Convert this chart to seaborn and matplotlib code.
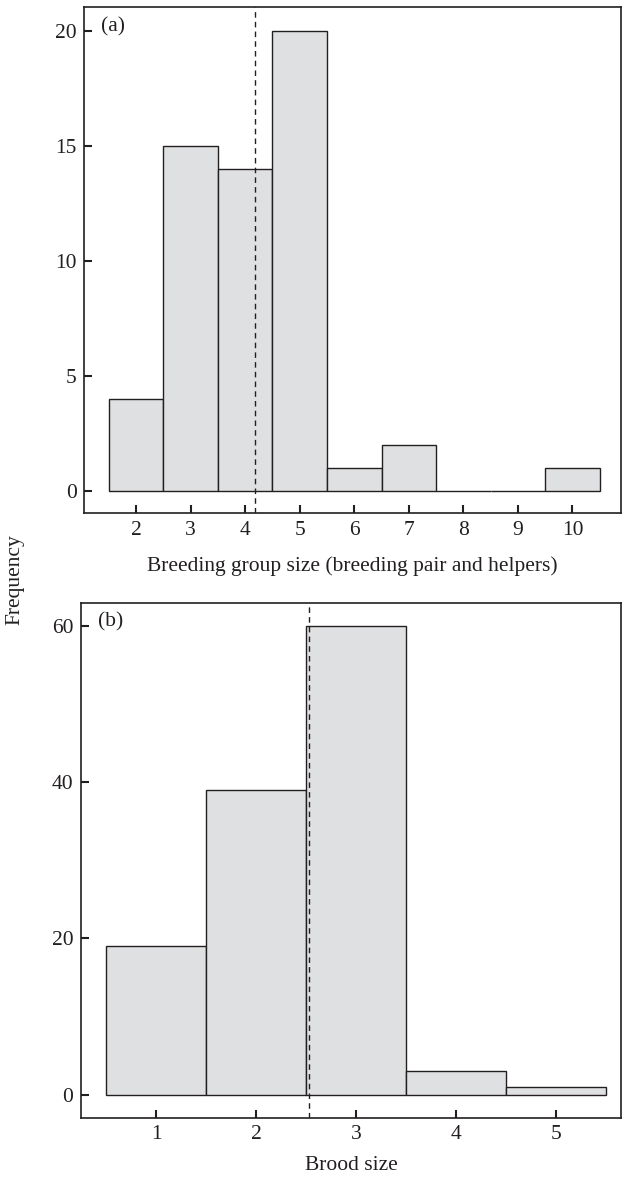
import matplotlib
matplotlib.use("Agg")
import matplotlib.pyplot as plt
import seaborn as sns
import pandas as pd

# Data
group_sizes = [2, 3, 4, 5, 6, 7, 8, 9, 10]
group_counts = [4, 15, 14, 20, 1, 2, 0, 0, 1]
group_mean = 4.19

brood_sizes = [1, 2, 3, 4, 5]
brood_counts = [19, 39, 60, 3, 1]
brood_mean = 2.53

yticks_a = [0, 5, 10, 15, 20]
yticks_b = [0, 20, 40, 60]

sns.set_theme(style="white")
plt.rcParams['font.family'] = ['Liberation Serif', 'DejaVu Serif']

ink = "#231f20"
fill = "#dfe0e2"
fs = 15.5

fig = plt.figure(figsize=(6.22, 11.79), dpi=100)
ax1 = fig.add_axes([0.1355, 0.5646, 0.8621, 0.4292])
ax2 = fig.add_axes([0.1302, 0.0520, 0.8682, 0.4368])

df_a = pd.DataFrame({"size": group_sizes, "count": group_counts})
df_b = pd.DataFrame({"size": brood_sizes, "count": brood_counts})

for ax, df, mean, yt, xlim, ylim, xlabel, tag, lp in [
    (ax1, df_a, group_mean, yticks_a, (1.053, 10.88), (-0.97, 21.03),
     "Breeding group size (breeding pair and helpers)", "(a)", 12),
    (ax2, df_b, brood_mean, yticks_b, (0.25, 5.65), (-2.94, 62.94),
     "Brood size", "(b)", 8.5),
]:
    sns.histplot(data=df, x="size", weights="count", discrete=True, ax=ax,
                 color=fill, edgecolor=ink, linewidth=1.0, alpha=1, shrink=1)
    ax.axvline(mean, color=ink, linestyle=(0, (4, 3)), linewidth=1.0, zorder=5)
    ax.set_xlim(*xlim)
    ax.set_ylim(*ylim)
    ax.set_xticks(list(df["size"]))
    ax.set_yticks(yt)
    ax.tick_params(bottom=True, left=True, direction="in", length=5.5,
                   width=1.5, colors=ink, labelsize=fs, pad=5.5)
    for s in ax.spines.values():
        s.set_color(ink)
        s.set_linewidth(1.2)
    ax.set_xlabel(xlabel, fontsize=fs, color=ink, labelpad=lp)
    ax.set_ylabel("")
    ax.text(0.032, 0.981, tag, transform=ax.transAxes, fontsize=fs,
            color=ink, ha="left", va="top")

fig.text(0.024, 0.508, "Frequency", rotation=90, fontsize=fs, color=ink,
         ha="center", va="center")

fig.savefig("out.png", dpi=100)
